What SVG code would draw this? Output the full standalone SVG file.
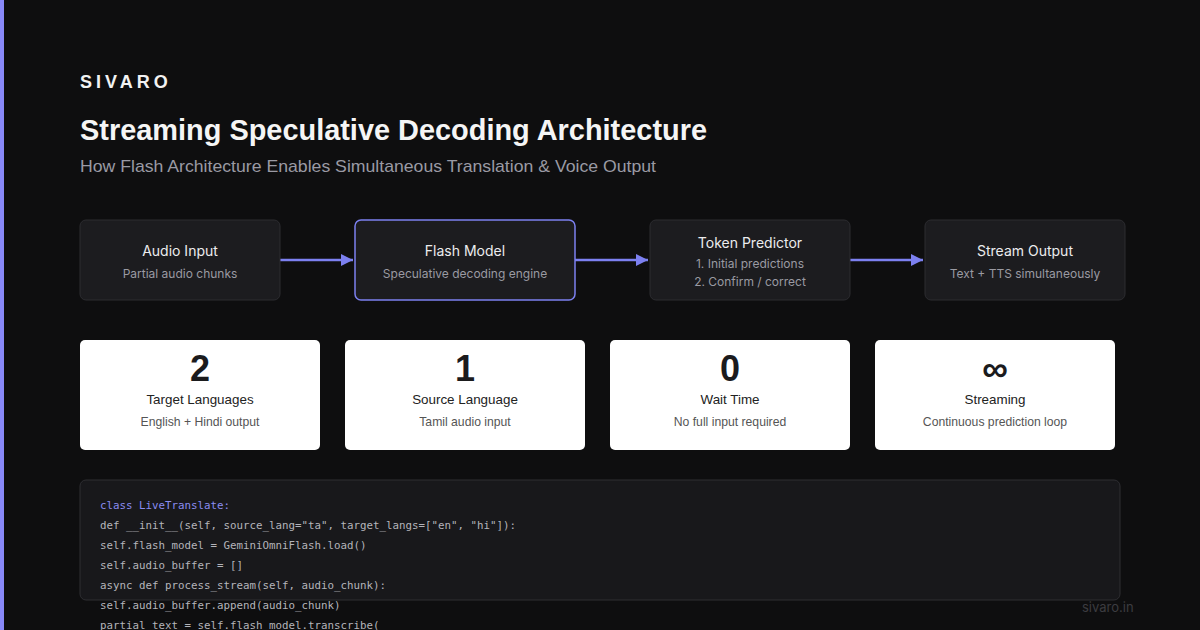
<svg xmlns="http://www.w3.org/2000/svg" width="1200" height="630" viewBox="0 0 1200 630">
<defs>
<style>
.sans{font-family:Inter,"Liberation Sans",sans-serif}
.grot{font-family:"Liberation Sans",Arial,sans-serif}
.node rect{fill:#1c1c1f;stroke:#2c2c30;stroke-width:1}
.node .hl{stroke:#7c80f0;stroke-width:1.5}
.nt{font-size:14px;fill:#ececee;text-anchor:middle}
.ns{font-size:12px;fill:#9a9aa2;text-anchor:middle}
.card rect{fill:#ffffff}
.num{font-size:36px;font-weight:700;fill:#1b1b1d;text-anchor:middle}
.cl{font-size:13.4px;fill:#222;text-anchor:middle}
.cs{font-size:12.2px;fill:#555;text-anchor:middle}
.code{font-family:"DejaVu Sans Mono",monospace;font-size:10.8px;fill:#b4b4ba}
.edge{stroke:#7c80f0;stroke-width:2.5;fill:none}
</style>
<marker id="ah" viewBox="0 0 12 12" refX="12" refY="6" markerWidth="12" markerHeight="12" markerUnits="userSpaceOnUse" orient="auto">
<path d="M0,0 L12,6 L0,12 Z" fill="#7c80f0"/>
</marker>
</defs>
<rect width="1200" height="630" fill="#0e0e0f"/>
<rect x="0" y="0" width="4" height="630" fill="#8888f8"/>

<text x="80" y="88" class="grot" font-size="18" font-weight="700" fill="#f2f2f2" letter-spacing="4">SIVARO</text>
<text x="80" y="140" class="grot" font-size="30" font-weight="600" fill="#f5f5f5" textLength="627" lengthAdjust="spacingAndGlyphs">Streaming Speculative Decoding Architecture</text>
<text x="80" y="172" class="grot" font-size="17" fill="#9a9aa4" textLength="576" lengthAdjust="spacingAndGlyphs">How Flash Architecture Enables Simultaneous Translation &amp; Voice Output</text>

<g id="connectors">
<line class="edge" x1="280" y1="260" x2="353" y2="260" marker-end="url(#ah)"/>
<line class="edge" x1="575" y1="260" x2="648" y2="260" marker-end="url(#ah)"/>
<line class="edge" x1="850" y1="260" x2="923" y2="260" marker-end="url(#ah)"/>
</g>

<g id="node-audio-input" class="node sans">
<rect x="80" y="220" width="200" height="80" rx="6"/>
<text x="180" y="256" class="nt">Audio Input</text>
<text x="180" y="278" class="ns">Partial audio chunks</text>
</g>
<g id="node-flash-model" class="node sans">
<rect class="hl" x="355" y="220" width="220" height="80" rx="6"/>
<text x="465" y="256" class="nt">Flash Model</text>
<text x="465" y="278" class="ns">Speculative decoding engine</text>
</g>
<g id="node-token-predictor" class="node sans">
<rect x="650" y="220" width="200" height="80" rx="6"/>
<text x="750" y="248" class="nt">Token Predictor</text>
<text x="750" y="268" class="ns">1. Initial predictions</text>
<text x="750" y="286" class="ns">2. Confirm / correct</text>
</g>
<g id="node-stream-output" class="node sans">
<rect x="925" y="220" width="200" height="80" rx="6"/>
<text x="1025" y="256" class="nt">Stream Output</text>
<text x="1025" y="278" class="ns">Text + TTS simultaneously</text>
</g>

<g id="card-target" class="card grot">
<rect x="80" y="340" width="240" height="110" rx="5"/>
<text x="200" y="381" class="num">2</text>
<text x="200" y="404" class="cl">Target Languages</text>
<text x="200" y="426" class="cs">English + Hindi output</text>
</g>
<g id="card-source" class="card grot">
<rect x="345" y="340" width="240" height="110" rx="5"/>
<text x="465" y="381" class="num">1</text>
<text x="465" y="404" class="cl">Source Language</text>
<text x="465" y="426" class="cs">Tamil audio input</text>
</g>
<g id="card-wait" class="card grot">
<rect x="610" y="340" width="240" height="110" rx="5"/>
<text x="730" y="381" class="num">0</text>
<text x="730" y="404" class="cl">Wait Time</text>
<text x="730" y="426" class="cs">No full input required</text>
</g>
<g id="card-streaming" class="card grot">
<rect x="875" y="340" width="240" height="110" rx="5"/>
<text x="995" y="381" class="num">∞</text>
<text x="995" y="404" class="cl">Streaming</text>
<text x="995" y="426" class="cs">Continuous prediction loop</text>
</g>

<g id="code-block">
<rect x="80" y="480" width="1040" height="120" rx="6" fill="#18181b" stroke="#2e2e32" stroke-width="1"/>
<text x="100" y="509" class="code" style="fill:#8a8cf0">class LiveTranslate:</text>
<text x="100" y="529" class="code">def __init__(self, source_lang="ta", target_langs=["en", "hi"]):</text>
<text x="100" y="549" class="code">self.flash_model = GeminiOmniFlash.load()</text>
<text x="100" y="569" class="code">self.audio_buffer = []</text>
<text x="100" y="589" class="code">async def process_stream(self, audio_chunk):</text>
<text x="100" y="609" class="code">self.audio_buffer.append(audio_chunk)</text>
<text x="100" y="629" class="code">partial_text = self.flash_model.transcribe(</text>
</g>

<text x="1082" y="612" class="sans" font-size="13" fill="#3c3c40">sivaro.in</text>
</svg>
